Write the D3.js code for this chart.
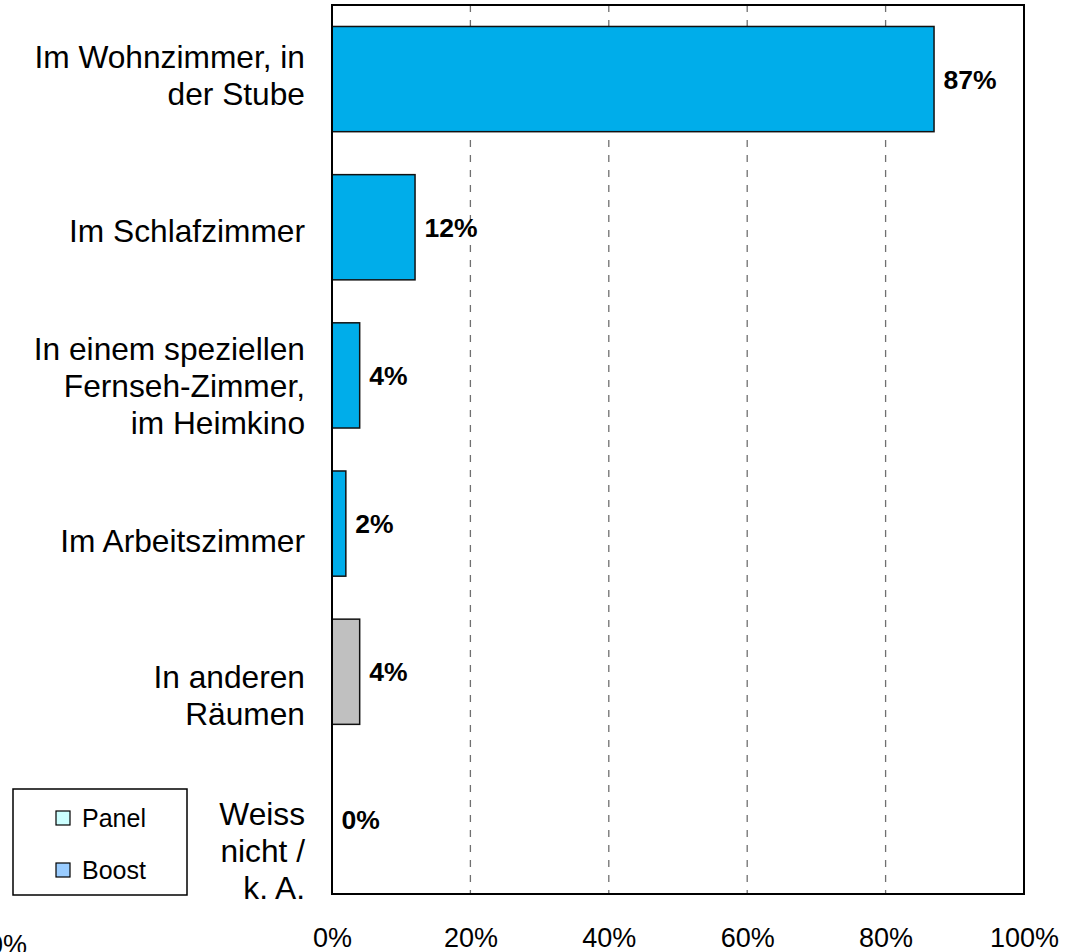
<!DOCTYPE html>
<html>
<head>
<meta charset="utf-8">
<script src="https://cdn.jsdelivr.net/npm/d3@7"></script>
<style>
  body { margin: 0; background: #fff; }
  svg { display: block; font-family: "Liberation Sans", Arial, sans-serif; }
</style>
</head>
<body>
<script>
// chart data
var categories = [
  ["Im Wohnzimmer, in", "der Stube"],
  ["Im Schlafzimmer"],
  ["In einem speziellen", "Fernseh-Zimmer,", "im Heimkino"],
  ["Im Arbeitszimmer"],
  ["In anderen", "Räumen"],
  ["Weiss", "nicht /", "k. A."]
];
var values = [87, 12, 4, 2, 4, 0];
var barColors = ["#00ADEA", "#00ADEA", "#00ADEA", "#00ADEA", "#C0C0C0", "#C0C0C0"];
var tickValues = [0, 20, 40, 60, 80, 100];
var legendNames = ["Panel", "Boost"];
var legendColors = ["#CCFFFF", "#99CCFF"];

var width = 1084;
var height = 952;
var plot = {left: 332, right: 1024, top: 5, bottom: 894};

var svg = d3.select("body")
  .append("svg")
  .attr("width", width)
  .attr("height", height);

var ids = d3.range(categories.length);

var x = d3.scaleLinear()
  .domain([0, 100])
  .range([plot.left, plot.right]);

var y = d3.scaleBand()
  .domain(ids)
  .range([plot.top, plot.bottom])
  .paddingInner(0.29)
  .paddingOuter(0.145);

// category text boxes sit a bit lower than the bars further down
var yLabel = d3.scaleBand()
  .domain(ids)
  .range([-2, 928]);

// dashed gridlines
svg.append("g")
  .selectAll("line")
  .data(tickValues.slice(1, -1))
  .enter()
  .append("line")
  .attr("x1", d => x(d))
  .attr("x2", d => x(d))
  .attr("y1", plot.top)
  .attr("y2", plot.bottom)
  .attr("stroke", "#707070")
  .attr("stroke-width", 1.3)
  .attr("stroke-dasharray", "7,8");

// bars
svg.append("g")
  .selectAll("rect")
  .data(values)
  .enter()
  .append("rect")
  .attr("x", x(0))
  .attr("y", (d, i) => y(i))
  .attr("width", d => x(d) - x(0))
  .attr("height", y.bandwidth())
  .attr("fill", (d, i) => barColors[i])
  .attr("stroke", d => d > 0 ? "#111" : "none")
  .attr("stroke-width", 1.5);

// plot frame
svg.append("rect")
  .attr("x", plot.left)
  .attr("y", plot.top)
  .attr("width", plot.right - plot.left)
  .attr("height", plot.bottom - plot.top)
  .attr("fill", "none")
  .attr("stroke", "#000")
  .attr("stroke-width", 2);

// value labels
svg.append("g")
  .selectAll("text")
  .data(values)
  .enter()
  .append("text")
  .attr("x", d => x(d) + 9.5)
  .attr("y", (d, i) => y(i) + y.bandwidth() / 2)
  .attr("dy", "0.36em")
  .attr("font-size", "26.5px")
  .attr("font-weight", "bold")
  .attr("fill", "#000")
  .text(d => d + "%");

// category labels
var catText = svg.append("g")
  .selectAll("text")
  .data(categories)
  .enter()
  .append("text")
  .attr("text-anchor", "end")
  .attr("font-size", "31.7px")
  .attr("fill", "#000");

var lineH = 37;
catText.each(function(lines, i) {
  var cy = yLabel(i) + yLabel.bandwidth() / 2;
  var first = cy - (lines.length - 1) * lineH / 2;
  d3.select(this).selectAll("tspan")
    .data(lines)
    .enter()
    .append("tspan")
    .attr("x", 305)
    .attr("y", (l, j) => first + j * lineH)
    .attr("dy", "0.36em")
    .text(l => l);
});

// x axis
var xAxis = svg.append("g")
  .attr("transform", "translate(0," + plot.bottom + ")")
  .call(d3.axisBottom(x).tickValues(tickValues).tickSize(0).tickFormat(d => d + "%"));
xAxis.select(".domain").remove();
xAxis.selectAll("text")
  .attr("y", 53)
  .attr("dy", null)
  .attr("font-size", "27px")
  .attr("font-family", "Liberation Sans, Arial, sans-serif")
  .attr("fill", "#000");

// stray label cut at the bottom left
svg.append("text")
  .attr("x", 27)
  .attr("y", 954)
  .attr("text-anchor", "end")
  .attr("font-size", "27px")
  .attr("fill", "#000")
  .text("0%");

// legend
var legend = svg.append("g");
legend.append("rect")
  .attr("x", 13)
  .attr("y", 789)
  .attr("width", 174)
  .attr("height", 106)
  .attr("fill", "#fff")
  .attr("stroke", "#000")
  .attr("stroke-width", 1.5);

var items = legend.selectAll("g.item")
  .data(legendNames)
  .enter()
  .append("g")
  .attr("class", "item")
  .attr("transform", (d, i) => "translate(0," + (i * 52) + ")");

items.append("rect")
  .attr("x", 56)
  .attr("y", 811)
  .attr("width", 14)
  .attr("height", 14)
  .attr("fill", (d, i) => legendColors[i])
  .attr("stroke", "#000")
  .attr("stroke-width", 1.2);

items.append("text")
  .attr("x", 82)
  .attr("y", 827)
  .attr("font-size", "25px")
  .attr("fill", "#000")
  .text(d => d);
</script>
</body>
</html>
